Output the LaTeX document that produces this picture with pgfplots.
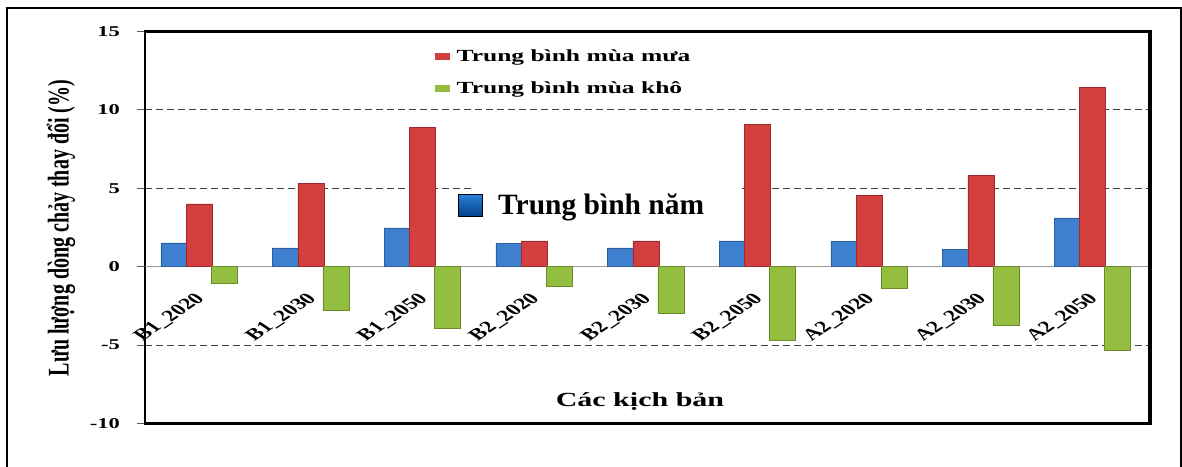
\documentclass[border=0pt]{standalone}
\usepackage{pgfplots}
\pgfplotsset{compat=1.18}
\usepackage{fontspec}
\setmainfont{Liberation Serif}
\newfontfamily\wsf[FakeStretch=1.5]{Liberation Serif}
\newfontfamily\nsf[FakeStretch=0.6667]{Liberation Serif}
\definecolor{bluM}{HTML}{3F7FD0}
\definecolor{bluD}{HTML}{2D5E9E}
\definecolor{redM}{HTML}{D33F3F}
\definecolor{redD}{HTML}{9E2A2A}
\definecolor{grnM}{HTML}{93BE3F}
\definecolor{grnD}{HTML}{6A8A2C}
\definecolor{bluTop}{HTML}{2A7FD6}
\definecolor{bluBot}{HTML}{003E86}
\begin{document}
\begin{tikzpicture}
\useasboundingbox (0pt,0pt) rectangle (1182pt,466pt);
\draw[line width=1.2pt] (7pt,-5pt) -- (7pt,458pt) -- (1181pt,458pt) -- (1181pt,-5pt);
\begin{axis}[
  scale only axis, width=1005pt, height=392pt,
  at={(145pt,42.5pt)}, anchor=south west,
  xmin=-0.5, xmax=8.5, ymin=-10, ymax=15,
  axis line style={black, line width=2.5pt},
  xtick={0,...,8},
  xticklabels={B1\_2020,B1\_2030,B1\_2050,B2\_2020,B2\_2030,B2\_2050,A2\_2020,A2\_2030,A2\_2050},
  x tick label style={yshift=135pt, cm={1.0607,0.7071,-1.0607,0.7071,(0pt,0pt)}, anchor=east, inner sep=0pt, font=\fontsize{16}{16}\selectfont\bfseries},
  xtick style={draw=none},
  ytick={-10,-5,0,5,10,15},
  yticklabels={-10,-5,0,5,10,15},
  ytick pos=left,
  tick align=outside, major tick length=8pt,
  ytick style={draw=black!65, line width=1pt},
  y tick label style={anchor=east, inner sep=0pt, xshift=-17pt, font=\wsf\fontsize{15}{15}\selectfont\bfseries},
  ymajorgrids,
  major grid style={black!75, line width=0.9pt, dash pattern=on 7pt off 4pt},
  xlabel={Các kịch bản},
  xlabel style={at={(axis description cs:0.4925,0.055)}, anchor=center, font=\wsf\fontsize{20}{20}\selectfont\bfseries},
  ylabel={Lưu lượng dòng chảy thay đổi (\%)},
  ylabel style={at={(axis description cs:-0.0836,0.4987)}, anchor=center, font=\nsf\fontsize{30}{30}\selectfont\bfseries},
  legend style={at={(axis description cs:0.288,0.960)}, anchor=north west, draw=none, fill=none, inner sep=0pt, row sep=15pt, font=\wsf\fontsize{17}{17}\selectfont\bfseries, /tikz/every odd column/.append style={column sep=5pt}},
  legend cell align=left,
  legend image code/.code={\path[#1, draw=none] (0pt,-3.5pt) rectangle (15pt,3.5pt);},
]
\fill[white] (axis cs:2.455,2.3) rectangle (axis cs:4.85,5.6);
\draw[black!40, line width=1.2pt] (axis cs:-0.5,0) -- (axis cs:8.5,0);
\addplot[ybar, bar width=26pt, bar shift=-27pt, fill=bluM, draw=bluD, line width=0.6pt, forget plot]
  coordinates {(0,1.52) (1,1.2) (2,2.48) (3,1.5) (4,1.2) (5,1.65) (6,1.59) (7,1.08) (8,3.11)};
\addplot[ybar, bar width=26pt, bar shift=-1.5pt, fill=redM, draw=redD, line width=0.6pt]
  coordinates {(0,4.0) (1,5.33) (2,8.9) (3,1.65) (4,1.65) (5,9.08) (6,4.57) (7,5.84) (8,11.43)};
\addlegendentry{Trung bình mùa mưa}
\addplot[ybar, bar width=26pt, bar shift=23.5pt, fill=grnM, draw=grnD, line width=0.6pt]
  coordinates {(0,-1.08) (1,-2.8) (2,-3.94) (3,-1.27) (4,-3.0) (5,-4.7) (6,-1.4) (7,-3.75) (8,-5.33)};
\addlegendentry{Trung bình mùa khô}
\end{axis}
\draw[line width=3.5pt] (1150pt,41.5pt) -- (1150pt,435.5pt);
\node[draw=black, line width=1pt, minimum width=24pt, minimum height=22pt, inner sep=0pt, top color=bluTop, bottom color=bluBot] at (470pt,260pt) {};
\node[anchor=base west, inner sep=0pt, font=\fontsize{29.5}{30}\selectfont\bfseries] at (498pt,251pt) {Trung bình năm};
\end{tikzpicture}
\end{document}
